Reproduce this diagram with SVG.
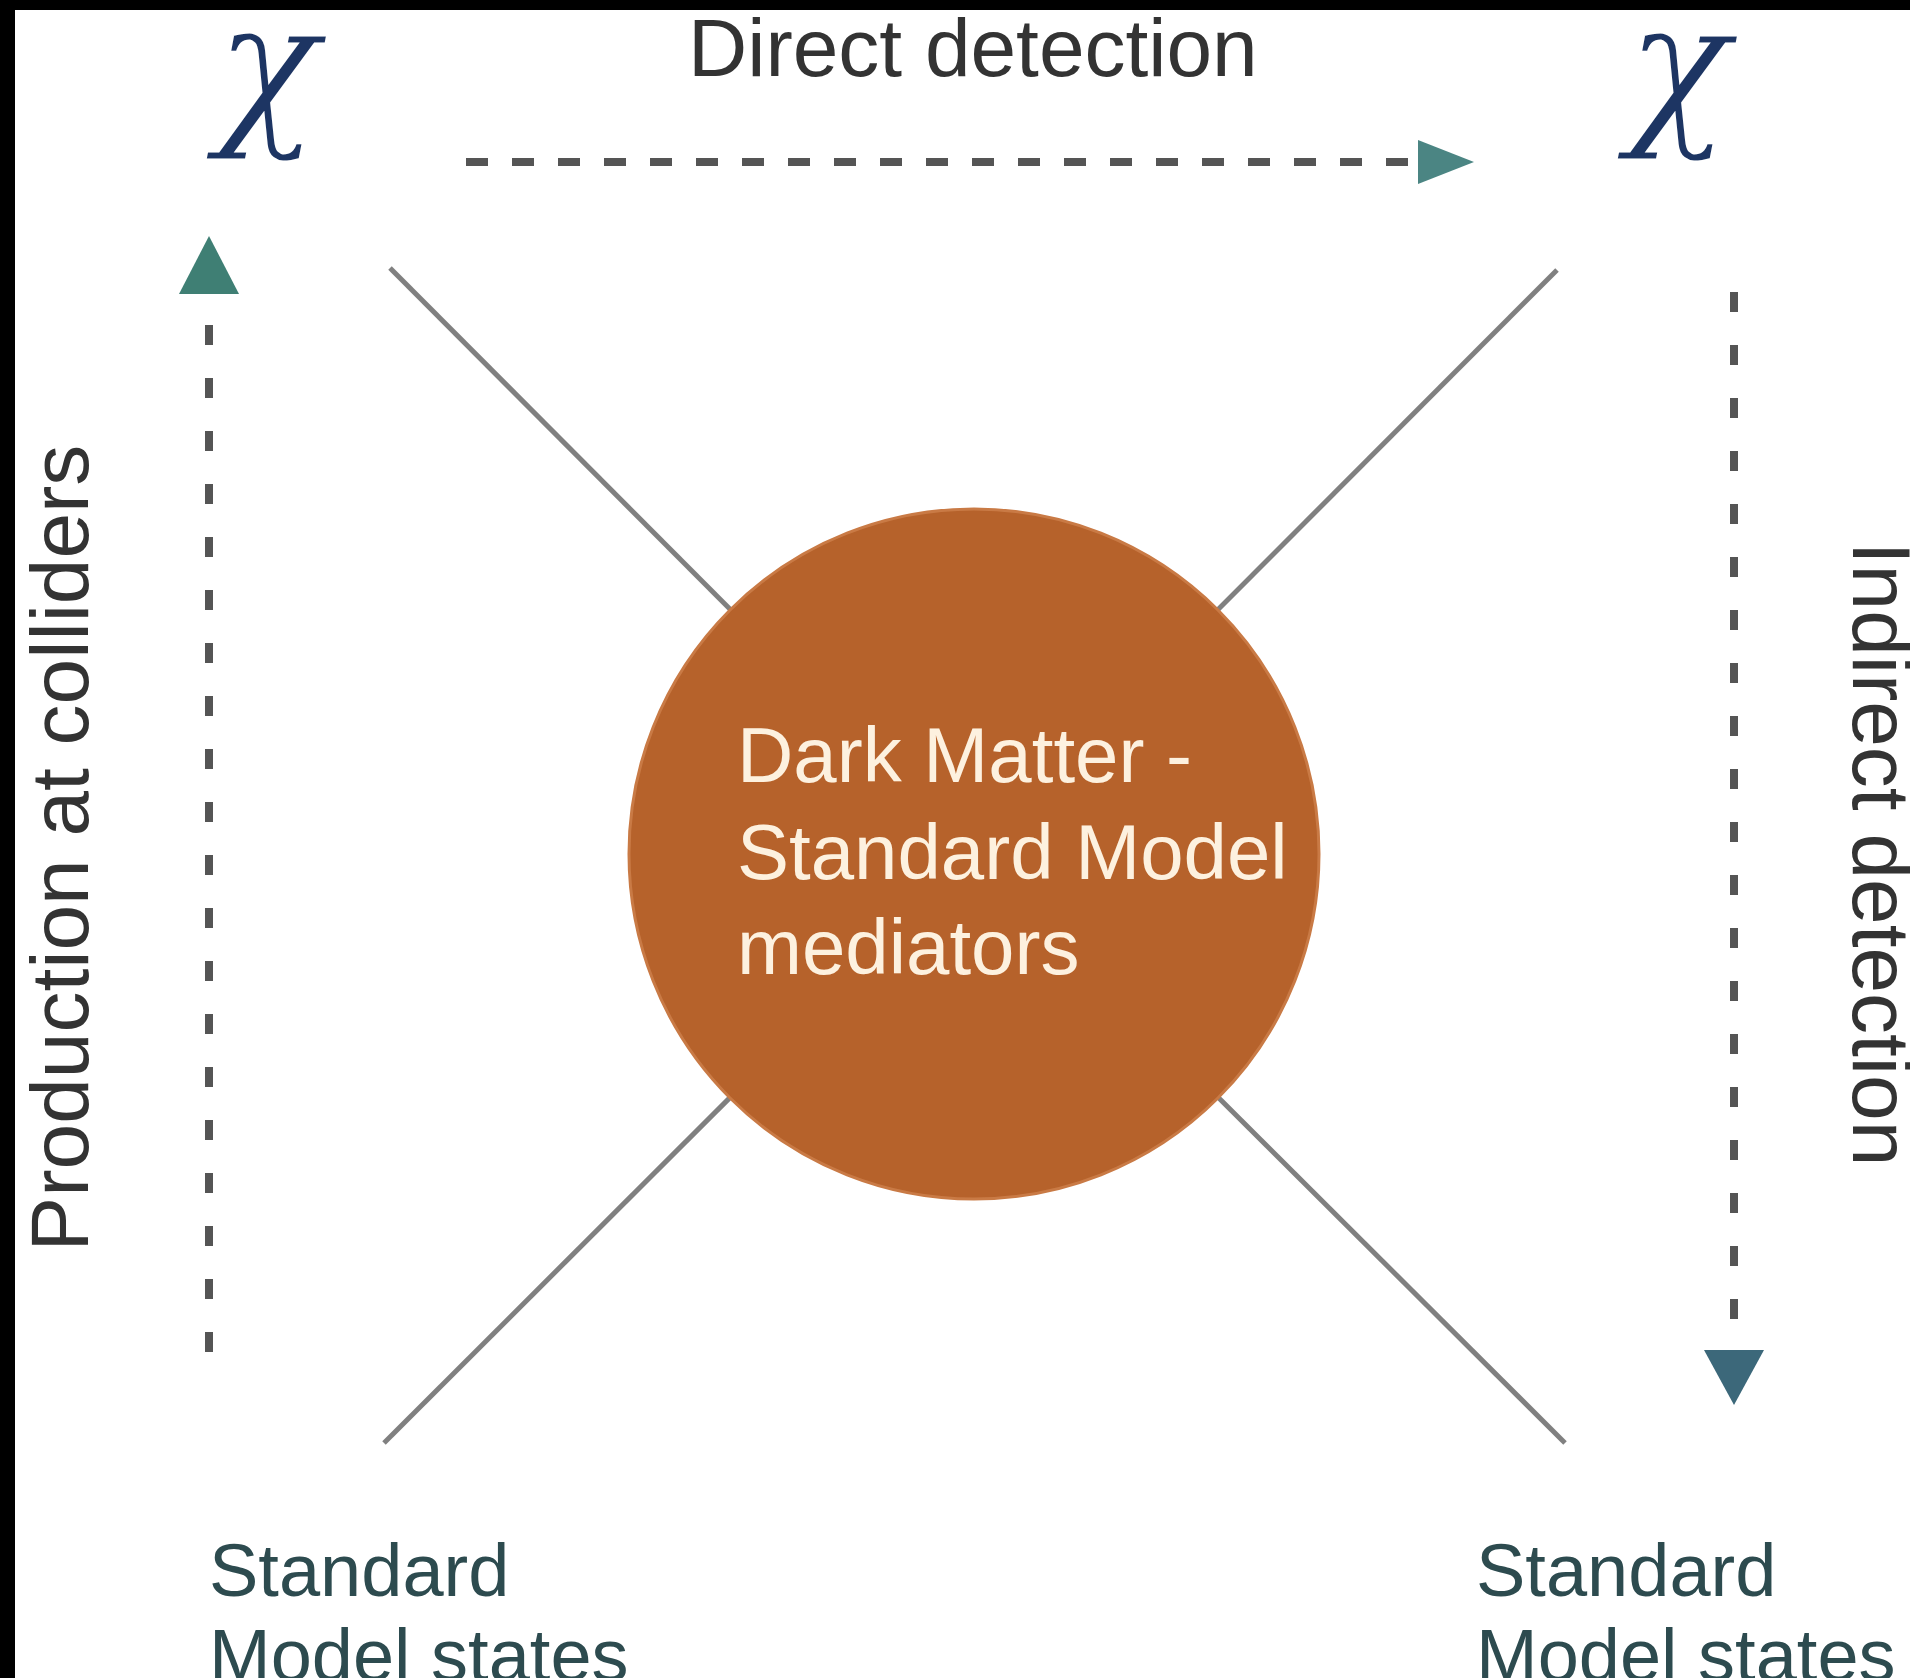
<svg xmlns="http://www.w3.org/2000/svg" width="1910" height="1678" viewBox="0 0 1910 1678">
  <style>
    .lbl { font-family: "Liberation Sans", Arial, sans-serif; fill: #333333; font-size: 82px; }
    .sm { font-family: "Liberation Sans", Arial, sans-serif; fill: #2d4b4f; font-size: 74px; }
    .chi { font-family: "DejaVu Serif", "Liberation Serif", serif; font-style: italic; fill: #1d3563; stroke: #ffffff; stroke-width: 3; font-size: 172px; }
    .ctext { font-family: "Liberation Sans", Arial, sans-serif; fill: #fdf1df; font-size: 78px; }
    .leg { stroke: #808080; stroke-width: 5; fill: none; }
    .dash { stroke: #555555; stroke-width: 8; fill: none; }
  </style>
  <defs>
    <marker id="headTeal" viewBox="0 0 60 60" refX="4" refY="30" markerWidth="60" markerHeight="60" markerUnits="userSpaceOnUse" orient="auto">
      <path d="M0,8 L56,30 L0,52 Z" fill="#4b8583"/>
    </marker>
    <marker id="headGreen" viewBox="0 0 62 70" refX="4" refY="35" markerWidth="62" markerHeight="70" markerUnits="userSpaceOnUse" orient="auto">
      <path d="M0,5 L58,35 L0,65 Z" fill="#3f7f74"/>
    </marker>
    <marker id="headBlue" viewBox="0 0 60 70" refX="4" refY="35" markerWidth="60" markerHeight="70" markerUnits="userSpaceOnUse" orient="auto">
      <path d="M0,5 L55,35 L0,65 Z" fill="#3c687a"/>
    </marker>
  </defs>

  <rect x="0" y="0" width="1910" height="1678" fill="#000000"/>
  <rect x="15" y="10" width="1895" height="1668" fill="#ffffff"/>

  <g id="connectors">
    <line class="leg" x1="390" y1="268" x2="974" y2="854"/>
    <line class="leg" x1="1557" y1="270" x2="974" y2="854"/>
    <line class="leg" x1="384" y1="1443" x2="974" y2="854"/>
    <line class="leg" x1="1565" y1="1443" x2="974" y2="854"/>
    <line class="dash" x1="466" y1="162" x2="1422" y2="162" stroke-dasharray="22 24" marker-end="url(#headTeal)"/>
    <line class="dash" x1="209" y1="1352" x2="209" y2="290" stroke-dasharray="20 33" marker-end="url(#headGreen)"/>
    <line class="dash" x1="1734" y1="292" x2="1734" y2="1354" stroke-dasharray="20 33" marker-end="url(#headBlue)"/>
  </g>

  <g id="mediator">
    <circle cx="974" cy="854" r="345" fill="#b6622b" stroke="#c97a45" stroke-width="3"/>
    <text class="ctext" x="737" y="782">Dark Matter -</text>
    <text class="ctext" x="737" y="879">Standard Model</text>
    <text class="ctext" x="737" y="974">mediators</text>
  </g>

  <g id="chi-left">
    <text class="chi" x="215" y="124">χ</text>
  </g>
  <g id="chi-right">
    <text class="chi" x="1626" y="124">χ</text>
  </g>

  <g id="label-direct">
    <text class="lbl" x="688" y="76">Direct detection</text>
  </g>
  <g id="label-production">
    <text class="lbl" text-anchor="middle" transform="translate(88,848) rotate(-90)">Production at colliders</text>
  </g>
  <g id="label-indirect">
    <text class="lbl" text-anchor="middle" transform="translate(1853,854) rotate(90)">Indirect detection</text>
  </g>

  <g id="sm-left">
    <text class="sm" x="209" y="1596">Standard</text>
    <text class="sm" x="209" y="1681">Model states</text>
  </g>
  <g id="sm-right">
    <text class="sm" x="1476" y="1596">Standard</text>
    <text class="sm" x="1476" y="1681">Model states</text>
  </g>
</svg>
